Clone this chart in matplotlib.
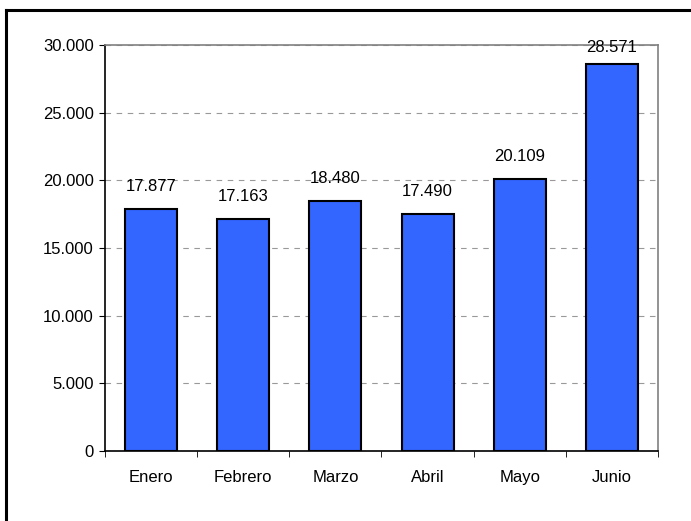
import numpy as np
import matplotlib.pyplot as plt
from matplotlib.lines import Line2D

plt.rcParams['font.family'] = ['Liberation Sans', 'DejaVu Sans']

months = ['Enero', 'Febrero', 'Marzo', 'Abril', 'Mayo', 'Junio']
values = [17877, 17163, 18480, 17490, 20109, 28571]
labels = ['17.877', '17.163', '18.480', '17.490', '20.109', '28.571']
yticks = [0, 5000, 10000, 15000, 20000, 25000, 30000]
ytick_labels = ['0', '5.000', '10.000', '15.000', '20.000', '25.000', '30.000']

W, H = 691, 521
fig = plt.figure(figsize=(W / 100, H / 100), dpi=100)
ax = fig.add_axes([105 / W, (H - 451) / H, (658 - 105) / W, (451 - 45) / H])

x = np.arange(len(months))
ax.bar(x, values, width=0.565, color='#3366FF', edgecolor='black', linewidth=1.5, zorder=3)

for xi, v, lab in zip(x, values, labels):
    ax.text(xi, min(v + 1100, 29250), lab, ha='center', va='bottom', fontsize=12, zorder=4)

ax.set_xlim(-0.5, len(months) - 0.5)
ax.set_ylim(0, 30000)
ax.set_yticks(yticks)
ax.set_yticklabels(ytick_labels, fontsize=12)
ax.set_xticks(x)
ax.set_xticklabels(months, fontsize=12)
ax.tick_params(axis='x', which='major', length=0, pad=14)
ax.set_xticks(np.arange(len(months) + 1) - 0.5, minor=True)
ax.tick_params(axis='x', which='minor', length=4, direction='out', color='black')
ax.tick_params(axis='y', length=4, direction='out', color='black', pad=4)

ax.grid(axis='y', linestyle=(0, (5, 5)), color='#999999', linewidth=0.8, zorder=0)
ax.spines['left'].set_color('black')
ax.spines['bottom'].set_color('black')
ax.spines['top'].set_color('#808080')
ax.spines['right'].set_color('#808080')
for s in ax.spines.values():
    s.set_linewidth(1.2)

# outer chart border (clipped at right and bottom)
fig.add_artist(Line2D([6 / W, 6 / W], [0, (H - 10) / H], color='black', linewidth=2.2, transform=fig.transFigure))
fig.add_artist(Line2D([6 / W, 1], [(H - 10) / H, (H - 10) / H], color='black', linewidth=2.2, transform=fig.transFigure))

fig.savefig('out.png', dpi=100)
